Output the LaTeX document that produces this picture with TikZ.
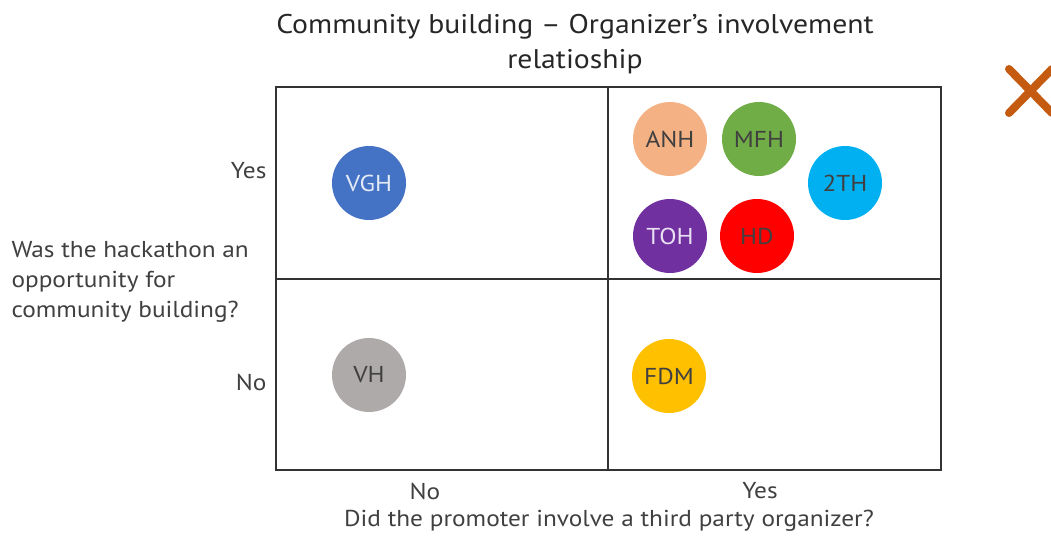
\documentclass[tikz,border=0pt]{standalone}
\usepackage{fontspec}
\setmainfont[FakeStretch=1.1]{PT Sans}
\usetikzlibrary{positioning}

\definecolor{txtgrey}{HTML}{404040}
\definecolor{xorange}{HTML}{C55A11}
\definecolor{cblue}{HTML}{4472C4}
\definecolor{cpeach}{HTML}{F4B183}
\definecolor{cgreen}{HTML}{70AD47}
\definecolor{ccyan}{HTML}{00B0F0}
\definecolor{cpurple}{HTML}{7030A0}
\definecolor{cred}{HTML}{FF0000}
\definecolor{cgrey}{HTML}{AEAAAA}
\definecolor{cyellow}{HTML}{FFC000}

\tikzset{
  hack/.style={circle, minimum size=74pt, inner sep=0pt, font=\fontsize{23}{26}\selectfont, text=txtgrey},
  lbl/.style={font=\fontsize{23}{30}\selectfont, text=txtgrey},
}

\begin{document}
\begin{tikzpicture}[x=1pt,y=1pt]
\useasboundingbox (0,0) rectangle (1051,535);

% title
\node[align=center, font=\fontsize{27}{35}\selectfont, text=black!85] (title) at (575,491) {Community building -- Organizer's involvement\\relatioship};

% the 2x2 grid
\draw[very thick, black!80] (276,65) rectangle (941,448);
\draw[very thick, black!80] (608,65) -- (608,448);
\draw[very thick, black!80] (276,256) -- (941,256);

% y axis labels
\node[lbl, left] (yes) at (270,364) {Yes};
\node[lbl, left] (no) at (270,153) {No};
\node[lbl, align=left, right] (yq) at (8,253) {Was the hackathon an\\opportunity for\\community building?};

% x axis labels
\node[lbl] (xno) at (425,44) {No};
\node[lbl] (xyes) at (760,44) {Yes};
\node[lbl] (xq) at (609,14) {Did the promoter involve a third party organizer?};

% hackathons
\node[hack, fill=cblue, text=white!85!cblue] (vgh) at (369,352) {VGH};
\node[hack, fill=cpeach] (anh) at (670,396) {ANH};
\node[hack, fill=cgreen] (mfh) at (759,396) {MFH};
\node[hack, fill=ccyan] (tth) at (845,352) {2TH};
\node[hack, fill=cpurple, text=white!85!cpurple] (toh) at (670,299) {TOH};
\node[hack, fill=cred] (hd) at (757,299) {HD};
\node[hack, fill=cgrey] (vh) at (369,160) {VH};
\node[hack, fill=cyellow] (fdm) at (669,159) {FDM};

% cross mark, cut by the right border
\draw[xorange, line width=8pt, line cap=round] (1009,466) -- (1052,422);
\draw[xorange, line width=8pt, line cap=round] (1009,422) -- (1052,466);
\end{tikzpicture}
\end{document}
